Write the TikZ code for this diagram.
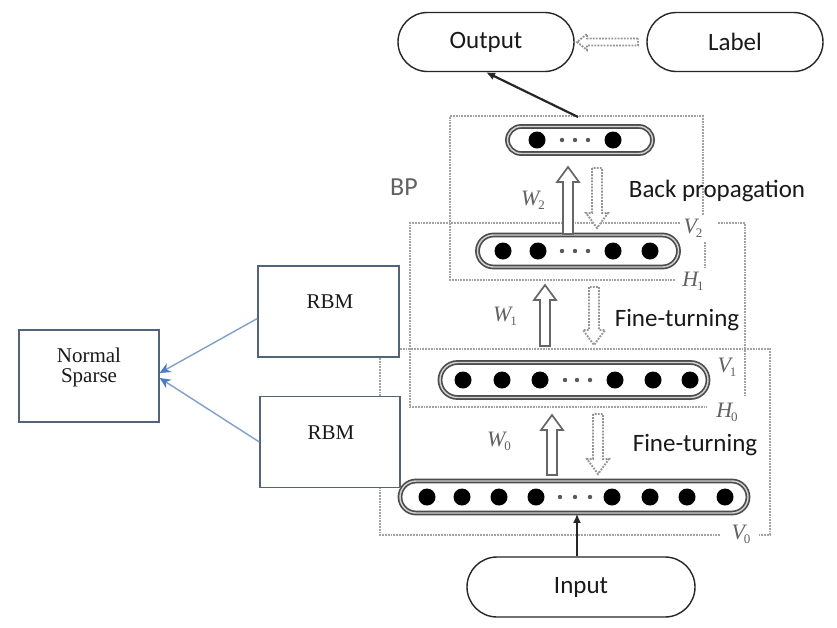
\documentclass[tikz,border=0pt]{standalone}
\usepackage{fontspec}
\setmainfont{Carlito}
\newfontfamily\tnr{Liberation Serif}
\usetikzlibrary{shapes.misc,arrows.meta}
\definecolor{boxedge}{RGB}{84,100,118}
\definecolor{arrowblue}{RGB}{128,160,204}
\definecolor{tipblue}{RGB}{74,126,194}
\newcommand\BlockUp[4]{% x, tip y, tail y, style
  \draw[#4] (#1-5,#3) -- (#1-5,#2+15) -- (#1-11,#2+15) -- (#1,#2) -- (#1+11,#2+15) -- (#1+5,#2+15) -- (#1+5,#3) -- cycle;}
\newcommand\BlockDown[4]{% x, tail y, tip y, style
  \draw[#4] (#1-5,#2) -- (#1-5,#3-15) -- (#1-11,#3-15) -- (#1,#3) -- (#1+11,#3-15) -- (#1+5,#3-15) -- (#1+5,#2) -- cycle;}
\newcommand\sbs[1]{\kern-1pt\raisebox{-4pt}{\upshape\fontsize{13}{13}\selectfont #1}}
\begin{document}
\begin{tikzpicture}[x=1pt,y=-1pt,
  pill/.style={rounded rectangle, draw=black!85, line width=1.4pt, minimum height=59pt, inner sep=0pt, font=\fontsize{25}{30}\selectfont, text=black!90},
  layer/.style={rounded rectangle, draw=black!70, double=gray!35, double distance=1.4pt, line width=1.7pt, inner sep=0pt, fill=white},
  big/.style={fill=black},
  small/.style={fill=black!65},
  dotbox/.style={draw=black!36, line width=2.6pt, dash pattern=on 1.8pt off 1pt},
  hollow/.style={draw=black!60, fill=white, line width=1.7pt},
  dhollow/.style={draw=black!42, fill=white, line width=1.9pt, dash pattern=on 1.8pt off 1.3pt},
  sans/.style={font=\fontsize{25}{30}\selectfont, text=black!90},
  wlab/.style={font=\tnr\fontsize{22}{24}\selectfont\itshape, text=black!62},
  rbox/.style={draw=boxedge, line width=1.3pt, fill=white, inner sep=0pt},
  serif/.style={font=\tnr\fontsize{21}{24}\selectfont, text=black!90, align=center},
  bluearrow/.style={draw=arrowblue, line width=1.4pt, -{Stealth[length=11pt,width=10pt,color=tipblue]}}]
\fill[white] (0,0) rectangle (837,627);
\useasboundingbox (0,0) rectangle (837,627);

% dotted boxes
\draw[dotbox] (703,215) -- (703,116) -- (450,116) -- (450,280) -- (675,280);
\draw[dotbox] (705,242) -- (705,268);
\draw[dotbox] (680,223) -- (410,223) -- (410,407) -- (707,407);
\draw[dotbox] (718,223) -- (745,223) -- (745,395);
\draw[dotbox] (720,535) -- (380,535) -- (380,349) -- (770,349) -- (770,535) -- (758,535);

% top nodes
\node[pill, minimum width=176pt] (output) at (486,42) {Output};
\node[pill, minimum width=176pt] (label) at (735,42) {Label};
\node[pill, minimum width=228pt, minimum height=60pt] (input) at (581,587) {Input};

% layers
\node[layer, minimum width=145pt, minimum height=27pt] (l3) at (580,140) {};
\node[layer, minimum width=201pt, minimum height=32pt] (l2) at (578,251) {};
\node[layer, minimum width=268pt, minimum height=35pt] (l1) at (574,380) {};
\node[layer, minimum width=348pt, minimum height=32pt] (l0) at (574,497) {};

\foreach \x in {537,613} \fill[big] (\x,140) circle (8.5);
\foreach \x in {503,538,613,650} \fill[big] (\x,251) circle (8.5);
\foreach \x in {463,502,540,615,653,690} \fill[big] (\x,380) circle (8.5);
\foreach \x in {427,462,499,536,612,650,687,725} \fill[big] (\x,497) circle (8.5);
\foreach \y in {140,251} \foreach \x in {562,575,588} \fill[small] (\x,\y) circle (2.2);
\foreach \x in {565,577,590} \fill[small] (\x,380) circle (2.2);
\foreach \x in {560,575,590} \fill[small] (\x,497) circle (2.2);

% block arrows
\BlockUp{568}{167}{234}{hollow}
\BlockDown{597}{168}{228}{dhollow}
\BlockUp{545}{285}{346}{hollow}
\BlockDown{594}{287}{345}{dhollow}
\BlockUp{552}{415}{475}{hollow}
\BlockDown{598}{414}{474}{dhollow}
\draw[dhollow] (638,38.5) -- (587,38.5) -- (587,34) -- (577,42) -- (587,50) -- (587,45.5) -- (638,45.5) -- cycle;

% solid connectors
\coordinate (bptop) at (578,117);
\draw[black!85, line width=2.2pt, -{Latex[length=9pt,width=8pt]}] (bptop) -- (output.south);
\draw[black!85, line width=2.2pt, -{Latex[length=9pt,width=8pt]}] (input.north -| 577,0) -- (l0.south -| 577,0);

% texts
\node[sans] at (717,191) {Back propagation};
\node[sans] at (677,320) {Fine-turning};
\node[sans] at (695,445) {Fine-turning};
\node[font=\fontsize{26}{30}\selectfont, text=black!62] at (404,187) {BP};
\node[wlab] at (533,200) {W\sbs{2}};
\node[wlab] at (505,316) {W\sbs{1}};
\node[wlab] at (499,441) {W\sbs{0}};
\node[wlab] at (693,228) {V\sbs{2}};
\node[wlab] at (693,281) {H\sbs{1}};
\node[wlab] at (727,367) {V\sbs{1}};
\node[wlab] at (727,412) {H\sbs{0}};
\node[wlab] at (741,534) {V\sbs{0}};

% left part
\node[rbox, minimum width=140pt, minimum height=92pt] (ns) at (89,376) {};
\node[serif] at (89,367) {Normal\\[-4pt]Sparse};
\node[rbox, minimum width=141pt, minimum height=91pt] (rbm1) at (328.5,311.5) {};
\node[serif] at (330,302) {RBM};
\node[rbox, minimum width=140pt, minimum height=91pt] (rbm2) at (330,442) {};
\node[serif] at (331,433) {RBM};
\draw[bluearrow] ([yshift=-7pt]rbm1.west) -- ([yshift=3pt]ns.east);
\draw[bluearrow] (rbm2.west) -- ([yshift=-2pt]ns.east);
\end{tikzpicture}
\end{document}
